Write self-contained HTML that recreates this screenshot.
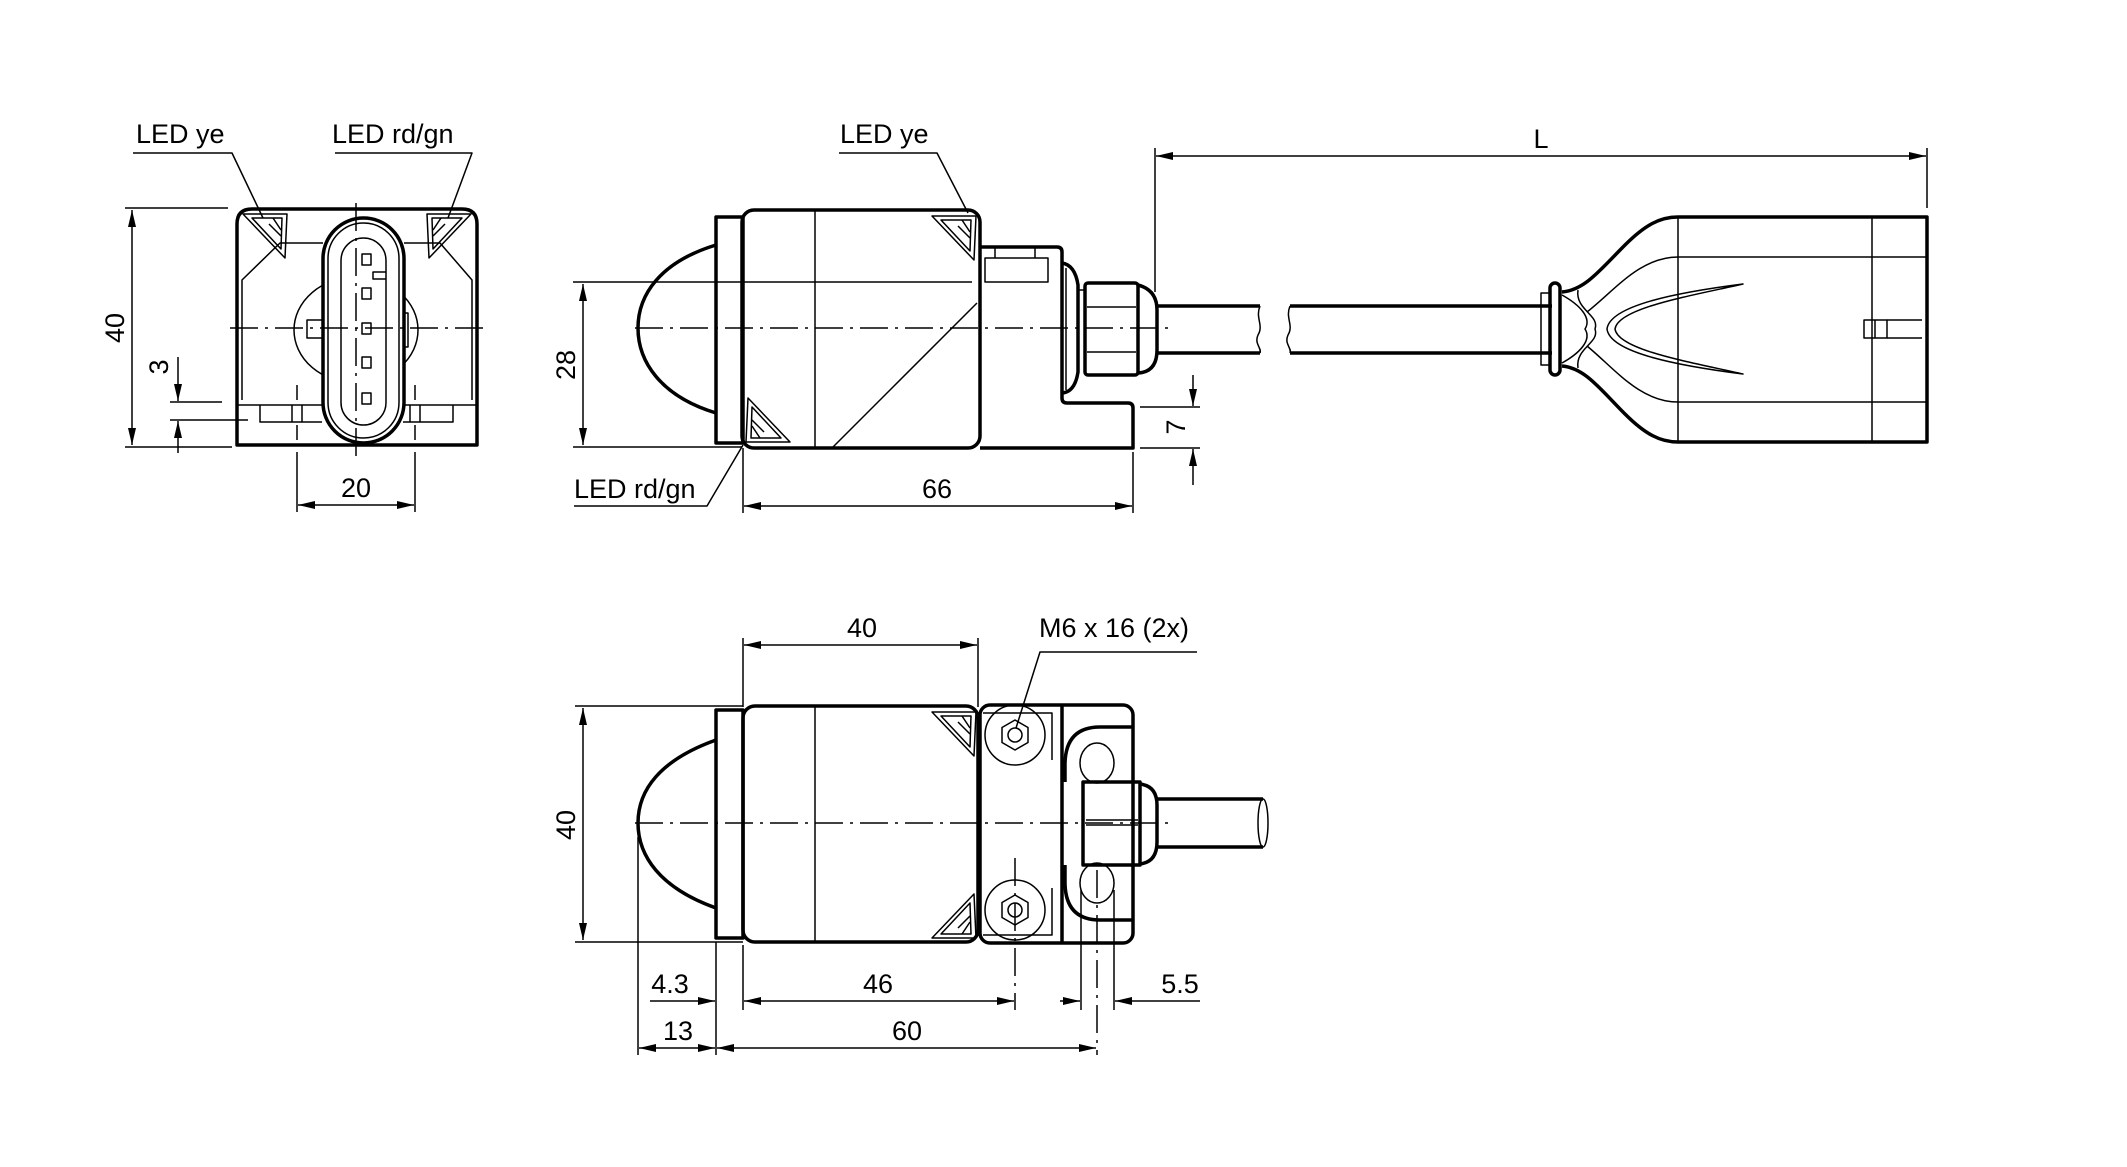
<!DOCTYPE html>
<html><head><meta charset="utf-8"><style>
html,body{margin:0;padding:0;background:#fff;}
svg{display:block;}
text{font-family:"Liberation Sans",Arial,sans-serif;font-size:27px;fill:#000;}
.k{fill:none;stroke:#000;stroke-width:3.5;stroke-linejoin:round;}
.t{fill:none;stroke:#000;stroke-width:1.5;stroke-linejoin:round;}
.w{fill:#fff;stroke:#000;stroke-width:3.5;}
.c{fill:none;stroke:#000;stroke-width:1.5;stroke-dasharray:28 7 3 7;}
.d{fill:none;stroke:#000;stroke-width:1.5;marker-start:url(#a);marker-end:url(#a);}
.e{fill:none;stroke:#000;stroke-width:1.5;marker-end:url(#a);}
</style></head><body>
<svg width="2127" height="1167" viewBox="0 0 2127 1167" xmlns="http://www.w3.org/2000/svg">
<defs>
<marker id="a" markerUnits="userSpaceOnUse" markerWidth="18" markerHeight="10" refX="17" refY="4" orient="auto-start-reverse"><path d="M0,0 L17,4 L0,8 Z" fill="#000"/></marker>
<g id="led"><path class="t" d="M0,0 L44,0 L42,44 Z"/><path class="t" d="M9,4 L39,4 L38,35 Z"/><path class="t" d="M30,4 L38,16 M26,10 L38,22"/></g>
</defs>

<!-- ============ FRONT VIEW ============ -->
<text x="136" y="143">LED ye</text>
<path class="t" d="M133,153 L232,153 L263,218"/>
<text x="332" y="143">LED rd/gn</text>
<path class="t" d="M335,153 L472,153 L448,218"/>

<path class="t" d="M125,208 L228,208 M125,447 L232,447"/>
<path class="d" d="M132,210 L132,445"/>
<text transform="translate(124,328) rotate(-90)" text-anchor="middle">40</text>

<path class="t" d="M170,402 L222,402 M170,420 L248,420"/>
<path class="e" d="M178,357 L178,401"/>
<path class="e" d="M178,453 L178,421"/>
<text transform="translate(168,367) rotate(-90)" text-anchor="middle">3</text>

<path class="k" d="M237,445 L237,224 Q237,209 252,209 L462,209 Q477,209 477,224 L477,445 Z"/>
<path class="t" d="M242,400 L242,280 L280,243 L323,243 M404,243 L440,243 L472,280 L472,400"/>
<use href="#led" transform="translate(243,214)"/>
<use href="#led" transform="translate(471,214) scale(-1,1)"/>
<ellipse class="t" cx="356" cy="330" rx="62" ry="53"/>
<rect class="t" x="307" y="320" width="16" height="18" fill="#fff"/>
<rect class="t" x="402" y="313" width="6" height="34"/>
<path class="t" d="M237,405 L477,405 M260,405 L260,422 L322,422 M403,422 L453,422 L453,405 M292,405 L292,422 M302,405 L302,422 M410,405 L410,422 M420,405 L420,422"/>
<rect class="w" x="323" y="218" width="81" height="225" rx="40.5"/>
<rect class="t" x="328" y="223" width="71" height="215" rx="35.5"/>
<rect class="t" x="341" y="238" width="45" height="187" rx="22.5"/>
<path class="t" d="M386,272 L373,272 L373,279 L386,279"/>
<g class="t">
<rect x="362" y="254" width="9" height="11"/><rect x="362" y="288" width="9" height="11"/><rect x="362" y="323" width="9" height="11"/><rect x="362" y="357" width="9" height="11"/><rect x="362" y="393" width="9" height="11"/>
</g>
<path class="c" d="M230,328 L487,328 M356,203 L356,456"/>
<path class="t" d="M297,385 L297,400 M297,425 L297,440 M415,385 L415,400 M415,425 L415,440" />
<path class="t" d="M297,452 L297,512 M415,452 L415,512"/>
<path class="d" d="M298,505 L414,505"/>
<text x="356" y="497" text-anchor="middle">20</text>

<!-- ============ SIDE VIEW ============ -->
<text x="840" y="143">LED ye</text>
<path class="t" d="M839,153 L937,153 L968,213"/>

<path class="k" d="M716,245 C 660,262 638,295 638,328 C 638,361 660,396 716,413"/>
<rect class="k" x="716" y="217" width="27" height="226"/>
<rect class="k" x="742" y="210" width="238" height="238" rx="12" fill="#fff"/>
<path class="t" d="M815,210 L815,448 M977,303 L833,447"/>
<use href="#led" transform="translate(932,216)"/>
<use href="#led" transform="translate(790,442) scale(-1,-1)"/>
<path class="t" d="M573,282 L972,282 M573,447 L742,447"/>
<path class="d" d="M583,284 L583,445"/>
<text transform="translate(575,365) rotate(-90)" text-anchor="middle">28</text>
<path class="c" d="M635,328 L1175,328"/>

<path class="k" d="M980,247 L1057,247 Q1062,247 1062,252 L1062,398 Q1062,403 1067,403 L1128,403 Q1133,403 1133,408 L1133,448 L980,448"/>
<rect class="t" x="985" y="258" width="63" height="24"/>
<path class="t" d="M995,247 L995,258 M1035,247 L1035,258"/>
<path class="k" d="M1062,263 Q1075,265 1078,285 L1078,372 Q1075,392 1062,393"/>
<path class="t" d="M1066,268 L1066,390 M1085,290 L1078,290"/>
<rect class="k" x="1085" y="283" width="53" height="92" rx="3" fill="#fff"/>
<path class="t" d="M1087,307 L1136,307 M1087,352 L1136,352"/>
<path class="k" d="M1138,285 Q1157,290 1157,310 L1157,350 Q1157,372 1138,373"/>
<path class="k" d="M1157,306 L1260,306 M1157,353 L1260,353 M1290,306 L1552,306 M1290,353 L1552,353"/>
<path class="t" d="M1260,306 C 1255,318 1264,325 1258,335 C 1254,344 1262,348 1260,353 M1290,306 C 1285,318 1294,325 1288,335 C 1284,344 1292,348 1290,353"/>

<path class="t" d="M743,448 L743,513 M1133,452 L1133,513"/>
<path class="d" d="M744,506 L1132,506"/>
<text x="937" y="498" text-anchor="middle">66</text>
<text x="574" y="498">LED rd/gn</text>
<path class="t" d="M574,506 L707,506 L743,445"/>

<path class="t" d="M1140,407 L1200,407 M1140,448 L1200,448"/>
<path class="e" d="M1193,375 L1193,406"/>
<path class="e" d="M1193,485 L1193,449"/>
<text transform="translate(1185,427) rotate(-90)" text-anchor="middle">7</text>

<path class="t" d="M1155,148 L1155,292 M1927,148 L1927,208"/>
<path class="d" d="M1156,156 L1926,156"/>
<text x="1541" y="148" text-anchor="middle">L</text>

<!-- connector -->
<path class="k" d="M1562,292 C 1585,290 1600,270 1625,245 C 1645,225 1660,217 1678,217 L1927,217 L1927,442 L1678,442 C 1660,442 1645,434 1625,414 C 1600,389 1585,368 1562,366"/>
<rect class="k" x="1550" y="283" width="10" height="92" rx="5" fill="#fff"/>
<rect class="t" x="1541" y="293" width="9" height="72"/>
<path class="t" d="M1678,217 L1678,442 M1872,217 L1872,442 M1678,257 L1927,257 M1678,402 L1927,402"/>
<path class="t" d="M1678,257 C 1640,257 1615,290 1587,312 M1678,402 C 1640,402 1615,369 1587,346"/>
<path class="t" d="M1743,284 C 1680,292 1610,305 1607,329 C 1610,353 1680,366 1743,374 C 1690,362 1618,350 1615,329 C 1618,308 1690,296 1743,284 Z"/>
<path class="t" d="M1562,295 C 1580,305 1592,318 1585,329 C 1592,340 1580,353 1562,363 M1578,290 C 1575,310 1600,315 1595,329 C 1600,343 1575,348 1578,368"/>
<rect class="t" x="1864" y="320" width="23" height="18"/>
<path class="t" d="M1875,320 L1875,338 M1887,320 L1922,320 M1887,338 L1922,338"/>

<!-- ============ TOP VIEW ============ -->
<path class="t" d="M743,638 L743,707 M978,638 L978,707"/>
<path class="d" d="M744,645 L977,645"/>
<text x="862" y="637" text-anchor="middle">40</text>
<text x="1039" y="637">M6 x 16 (2x)</text>
<path class="t" d="M1197,652 L1040,652 L1016,728"/>

<path class="t" d="M575,706 L743,706 M575,942 L743,942"/>
<path class="d" d="M583,708 L583,940"/>
<text transform="translate(575,825) rotate(-90)" text-anchor="middle">40</text>

<path class="k" d="M716,740 C 660,760 638,790 638,823 C 638,856 660,888 716,908"/>
<rect class="k" x="716" y="710" width="27" height="228"/>
<rect class="k" x="743" y="706" width="235" height="236" rx="12" fill="#fff"/>
<path class="t" d="M815,706 L815,942"/>
<use href="#led" transform="translate(932,712)"/>
<use href="#led" transform="translate(932,938) scale(1,-1)"/>

<rect class="k" x="980" y="705" width="153" height="238" rx="10"/>
<path class="k" d="M1062,705 L1062,943"/>
<path class="t" d="M983,713 L1052,713 L1052,760 M983,935 L1052,935 L1052,888"/>
<circle class="t" cx="1015" cy="735" r="30" fill="#fff"/>
<circle class="t" cx="1015" cy="910" r="30" fill="#fff"/>
<path class="t" d="M1015,720 L1028,727.5 L1028,742.5 L1015,750 L1002,742.5 L1002,727.5 Z M1015,895 L1028,902.5 L1028,917.5 L1015,925 L1002,917.5 L1002,902.5 Z"/>
<circle class="t" cx="1015" cy="735" r="7"/>
<circle class="t" cx="1015" cy="910" r="7"/>
<path class="k" d="M1133,727 L1100,727 Q1065,727 1065,765 L1065,782 M1133,920 L1100,920 Q1065,920 1065,882 L1065,865"/>
<ellipse class="t" cx="1097" cy="763" rx="17" ry="20"/>
<ellipse class="t" cx="1097" cy="883" rx="17" ry="20"/>
<rect class="k" x="1083" y="782" width="57" height="83" fill="#fff"/>
<path class="t" d="M1086,820 L1138,820 M1086,825 L1138,825"/>
<path class="k" d="M1140,784 Q1157,786 1157,805 L1157,842 Q1157,862 1140,864"/>
<path class="k" d="M1157,799 L1263,799 M1157,847 L1263,847"/>
<ellipse class="t" cx="1263" cy="823" rx="5" ry="24"/>
<path class="c" d="M635,823 L1175,823"/>

<path class="t" d="M638,837 L638,1055 M716,942 L716,1055 M743,945 L743,1010 M1081,890 L1081,1010 M1114,890 L1114,1010"/>
<path class="c" d="M1015,858 L1015,1010 M1097,870 L1097,1055"/>
<path class="e" d="M650,1001 L715,1001"/>
<text x="670" y="993" text-anchor="middle">4.3</text>
<path class="d" d="M744,1001 L1014,1001"/>
<text x="878" y="993" text-anchor="middle">46</text>
<path class="e" d="M1060,1001 L1080,1001"/>
<path class="e" d="M1200,1001 L1115,1001"/>
<text x="1180" y="993" text-anchor="middle">5.5</text>
<path class="d" d="M639,1048 L715,1048"/>
<text x="678" y="1040" text-anchor="middle">13</text>
<path class="d" d="M717,1048 L1096,1048"/>
<text x="907" y="1040" text-anchor="middle">60</text>
</svg>
</body></html>
